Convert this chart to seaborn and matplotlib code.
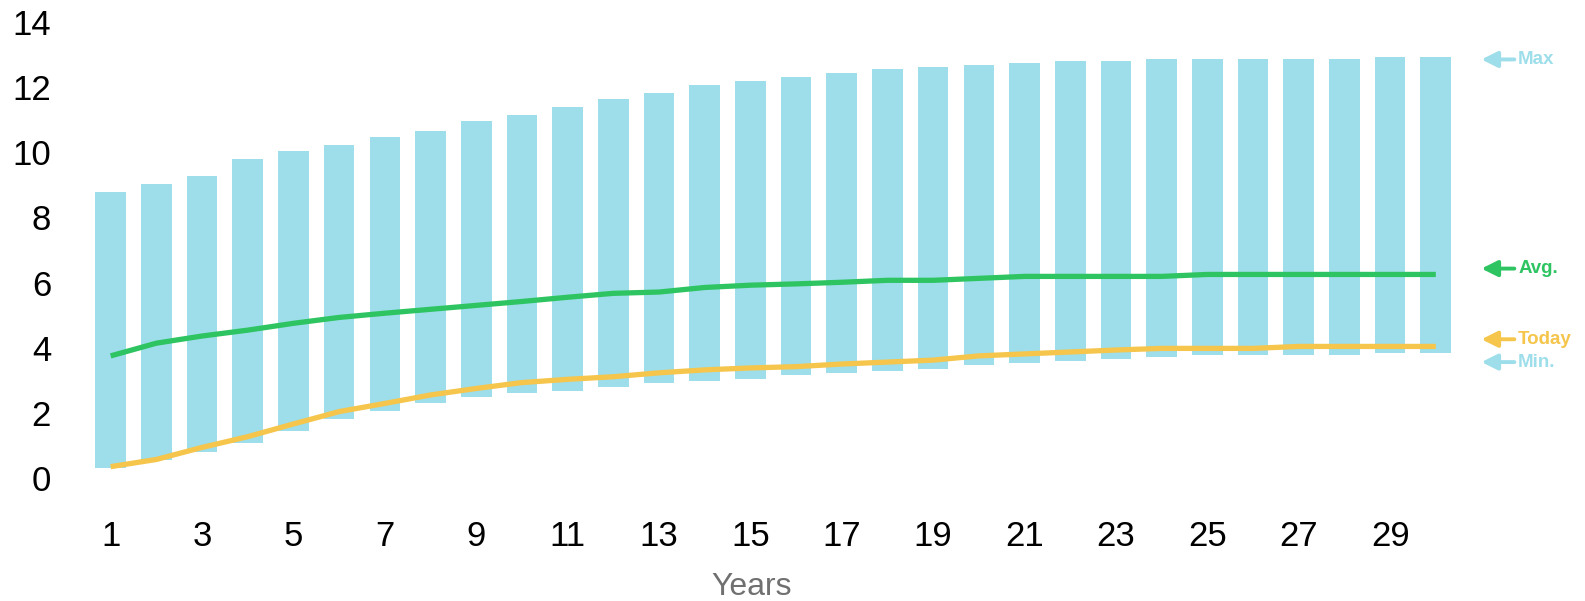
import numpy as np
import pandas as pd
import matplotlib
matplotlib.use("Agg")
import matplotlib.pyplot as plt
import seaborn as sns

years = list(range(1, 31))
max_vals = [8.78, 9.03, 9.27, 9.80, 10.04, 10.23, 10.47, 10.66, 10.96, 11.15,
            11.39, 11.64, 11.82, 12.07, 12.19, 12.31, 12.44, 12.56, 12.62, 12.68,
            12.74, 12.80, 12.80, 12.87, 12.87, 12.87, 12.87, 12.87, 12.93, 12.93]
min_vals = [0.32, 0.56, 0.81, 1.08, 1.45, 1.82, 2.07, 2.31, 2.50, 2.62,
            2.68, 2.80, 2.93, 2.99, 3.05, 3.17, 3.23, 3.30, 3.36, 3.48,
            3.54, 3.60, 3.66, 3.73, 3.79, 3.79, 3.79, 3.79, 3.85, 3.85]
avg_vals = [3.75, 4.14, 4.36, 4.54, 4.75, 4.93, 5.06, 5.18, 5.30, 5.42,
            5.55, 5.67, 5.71, 5.85, 5.92, 5.96, 6.01, 6.07, 6.07, 6.13,
            6.19, 6.19, 6.19, 6.19, 6.25, 6.25, 6.25, 6.25, 6.25, 6.25]
today_vals = [0.35, 0.57, 0.94, 1.27, 1.66, 2.04, 2.29, 2.55, 2.75, 2.93,
              3.03, 3.11, 3.23, 3.32, 3.38, 3.42, 3.50, 3.56, 3.62, 3.75,
              3.81, 3.87, 3.93, 3.98, 3.98, 3.98, 4.04, 4.04, 4.04, 4.04]
xtick_years = list(range(1, 30, 2))
yticks = [0, 2, 4, 6, 8, 10, 12, 14]

# right-side legend labels: (text, y position, colour)
legend_labels = ["Max", "Avg.", "Today", "Min."]
legend_y = [12.85, 6.43, 4.26, 3.56]

BAR_C = "#9ddeea"
AVG_C = "#2ec462"
TODAY_C = "#f5c54c"
legend_colors = [BAR_C, AVG_C, TODAY_C, BAR_C]

sns.set_style("white")
plt.rcParams["font.family"] = ["Liberation Sans", "DejaVu Sans"]

df = pd.DataFrame({"year": years, "min": min_vals, "max": max_vals,
                   "avg": avg_vals, "today": today_vals})
df["span"] = df["max"] - df["min"]

fig = plt.figure(figsize=(15.85, 6.01), dpi=100)
ax = fig.add_axes([0.0410, 0.1504, 0.9081, 0.8401])

sns.barplot(data=df, x="year", y="span", bottom=df["min"].values,
            native_scale=True, color=BAR_C, saturation=1, width=0.67,
            linewidth=0, edgecolor="none", ax=ax, zorder=1)
sns.lineplot(data=df, x="year", y="avg", color=AVG_C, linewidth=3.8, ax=ax,
             zorder=3, solid_capstyle="butt")
sns.lineplot(data=df, x="year", y="today", color=TODAY_C, linewidth=3.8, ax=ax,
             zorder=3, solid_capstyle="butt")

ax.set_xlim(0, 31.5)
ax.set_ylim(-1, 14.5)
ax.set_xticks(xtick_years)
ax.set_xticklabels([str(y) for y in xtick_years])
ax.set_yticks(yticks)
ax.set_yticklabels([str(y) for y in yticks])
ax.tick_params(axis="both", length=0, labelsize=25, colors="black")
ax.tick_params(axis="y", pad=10)
ax.tick_params(axis="x", pad=7)
for s in ax.spines.values():
    s.set_visible(False)
ax.set_ylabel("")
ax.set_xlabel("Years", fontsize=23, color="#707070")
ax.xaxis.set_label_coords(0.4773, -0.151)
ax.xaxis.label.set_va("center")

for lab, yv, col in zip(legend_labels, legend_y, legend_colors):
    ax.annotate("", xy=(31.0, yv), xytext=(31.72, yv),
                arrowprops=dict(arrowstyle="-|>", color=col, lw=2.8,
                                mutation_scale=24, shrinkA=0, shrinkB=0),
                annotation_clip=False)
    ax.text(31.80, yv, lab, color=col, fontsize=13.5, fontweight="bold",
            va="center", ha="left", clip_on=False)

fig.savefig("out.png", dpi=100, facecolor="white")
